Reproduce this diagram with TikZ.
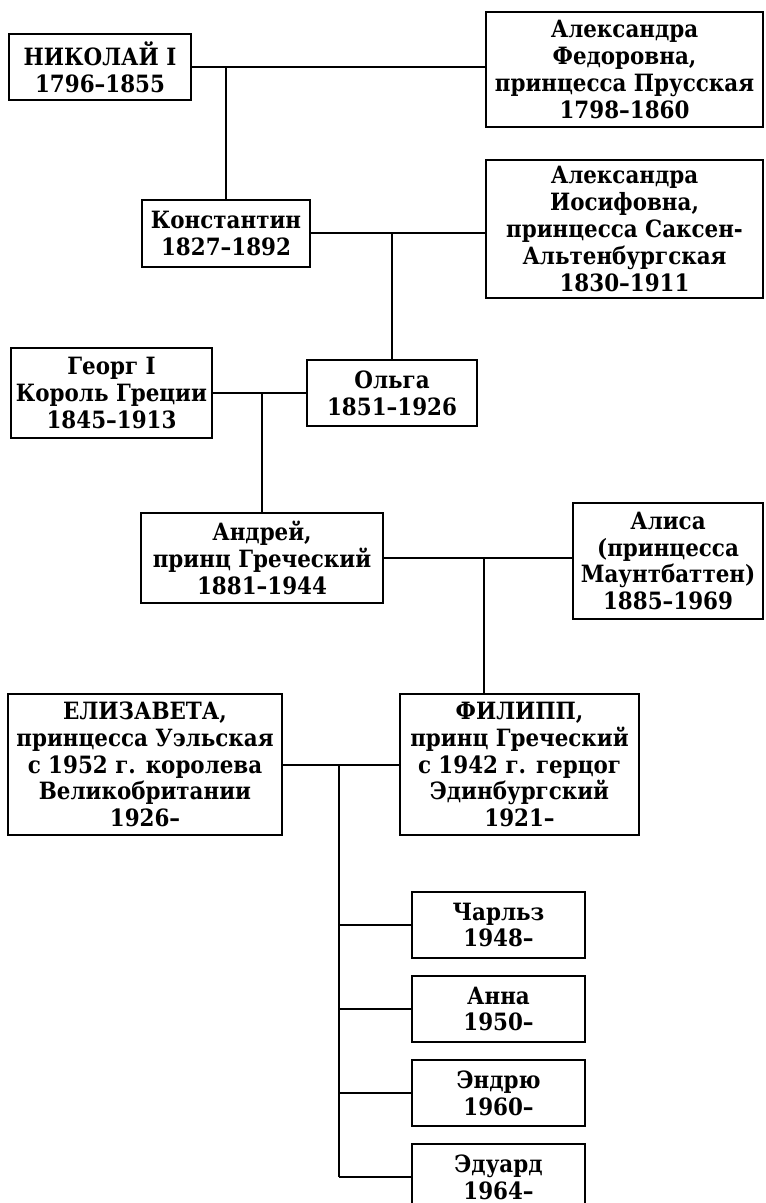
\documentclass[tikz,border=0pt]{standalone}
\usepackage{fontspec}
\setmainfont{DejaVu Serif Condensed}
\usetikzlibrary{positioning}
\tikzset{
  person/.style={draw, line width=1pt, align=center, inner sep=0pt,
    font=\bfseries\fontsize{11.9}{13.4}\selectfont},
  link/.style={line width=1pt},
  child/.style={person, minimum width=86.5pt, minimum height=33pt}
}

\begin{document}
\begin{tikzpicture}[x=0.5pt, y=-0.5pt]
    \useasboundingbox (0,0) rectangle (765,1203);
    % first generations
    \node[person, minimum width=91pt, minimum height=33pt] (nikolai) at (100,67) {НИКОЛАЙ I\\1796--1855};
    \node[person, minimum width=138.5pt, minimum height=57.5pt] (alexf) at (624.5,69.5) {Александра\\Федоровна,\\принцесса Прусская\\1798--1860};
    \node[person, minimum width=84pt, minimum height=33.5pt] (konst) at (226,233.5) {Константин\\1827--1892};
    \node[person, minimum width=138.5pt, minimum height=69pt] (alexi) at (624.5,229) {Александра\\Иосифовна,\\принцесса Саксен-\\Альтенбургская\\1830--1911};
    \node[person, minimum width=100.5pt, minimum height=45pt] (georg) at (111.5,393) {Георг I\\Король Греции\\1845--1913};
    \node[person, minimum width=85pt, minimum height=33pt] (olga) at (392,393) {Ольга\\1851--1926};
    \node[person, minimum width=121pt, minimum height=45pt] (andrei) at (262,558) {Андрей,\\принц Греческий\\1881--1944};
    \node[person, minimum width=95pt, minimum height=58pt] (alisa) at (668,561) {Алиса\\(принцесса\\Маунтбаттен)\\1885--1969};
    \node[person, minimum width=137pt, minimum height=70.5pt] (eliz) at (145,764.5) {ЕЛИЗАВЕТА,\\принцесса Уэльская\\с 1952 г. королева\\Великобритании\\1926--};
    \node[person, minimum width=119.5pt, minimum height=70.5pt] (filipp) at (519.5,764.5) {ФИЛИПП,\\принц Греческий\\с 1942 г. герцог\\Эдинбургский\\1921--};
    % children
    \node[child] (charles) at (498.5,925) {Чарльз\\1948--};
    \node[child, below=8pt of charles] (anna) {Анна\\1950--};
    \node[child, below=8pt of anna] (andrew) {Эндрю\\1960--};
    \node[child, below=8pt of andrew] (edward) {Эдуард\\1964--};
    % marriages and descent
    \draw[link] (nikolai.east) -- (nikolai.east -| alexf.west);
    \draw[link] (nikolai.east -| konst.north) -- (konst.north);
    \draw[link] (konst.east) -- (konst.east -| alexi.west);
    \draw[link] (konst.east -| olga.north) -- (olga.north);
    \draw[link] (georg.east) -- (olga.west);
    \draw[link] (georg.east -| andrei.north) -- (andrei.north);
    \draw[link] (andrei.east) -- (andrei.east -| alisa.west);
    \coordinate (j) at (484,558);
    \draw[link] (j) -- (j |- filipp.north);
    \draw[link] (eliz.east) -- (filipp.west);
    \coordinate (k) at (339,764.5);
    \draw[link] (k) -- (k |- edward.west);
    \foreach \c in {charles,anna,andrew,edward}
    \draw[link] (k |- \c.west) -- (\c.west);
\end{tikzpicture}
\end{document}
